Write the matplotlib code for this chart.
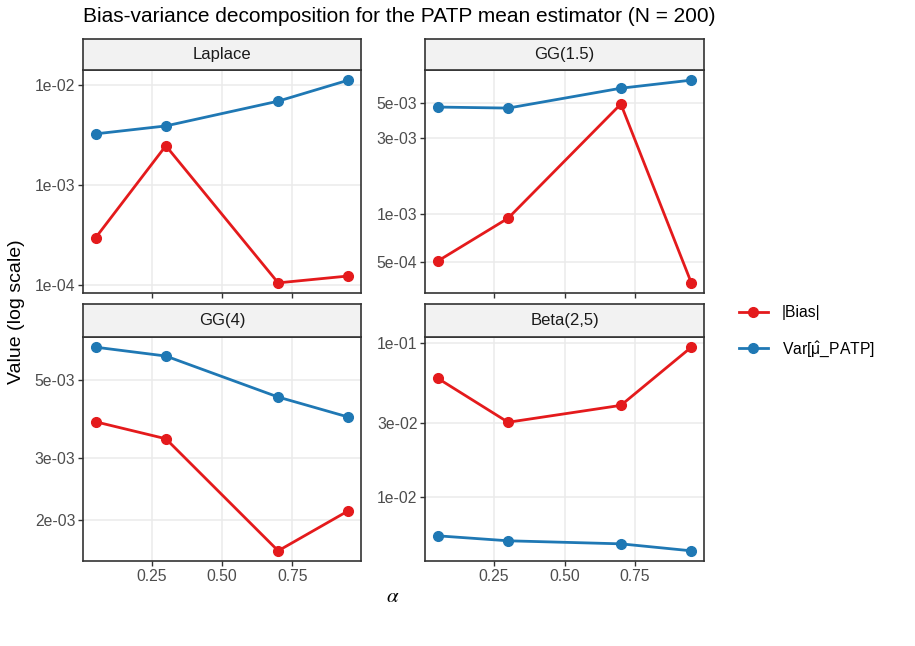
import matplotlib
matplotlib.use("Agg")
import matplotlib.pyplot as plt
from matplotlib.ticker import FixedLocator, FuncFormatter, NullLocator
from matplotlib.lines import Line2D

plt.rcParams['font.family'] = ['Liberation Sans', 'DejaVu Sans']
plt.rcParams['mathtext.fontset'] = 'stix'

alpha = [0.05, 0.30, 0.70, 0.95]
panels = ["Laplace", "GG(1.5)", "GG(4)", "Beta(2,5)"]
bias = {
    "Laplace":   [2.97e-4, 2.47e-3, 1.05e-4, 1.23e-4],
    "GG(1.5)":   [5.07e-4, 9.44e-4, 4.93e-3, 3.70e-4],
    "GG(4)":     [3.80e-3, 3.40e-3, 1.63e-3, 2.12e-3],
    "Beta(2,5)": [5.90e-2, 3.05e-2, 3.93e-2, 9.40e-2],
}
var = {
    "Laplace":   [3.25e-3, 3.90e-3, 6.90e-3, 1.12e-2],
    "GG(1.5)":   [4.72e-3, 4.65e-3, 6.20e-3, 6.97e-3],
    "GG(4)":     [6.20e-3, 5.85e-3, 4.47e-3, 3.92e-3],
    "Beta(2,5)": [5.56e-3, 5.16e-3, 4.93e-3, 4.44e-3],
}
yticks = {
    "Laplace": [1e-4, 1e-3, 1e-2],
    "GG(1.5)": [5e-4, 1e-3, 3e-3, 5e-3],
    "GG(4)": [2e-3, 3e-3, 5e-3],
    "Beta(2,5)": [1e-2, 3e-2, 1e-1],
}
xticks = [0.25, 0.50, 0.75]
xticklabels = ["0.25", "0.50", "0.75"]
series_labels = ["|Bias|", r"Var[$\mathregular{\hat{\mu}}$_PATP]"]
RED = "#E41A1C"
BLUE = "#1F78B4"

W, H = 915, 646
fig = plt.figure(figsize=(W / 100, H / 100), dpi=100)

def fx(px):
    return px / W

def fy(py):
    return 1 - py / H

cols = [(83, 361), (425, 704)]
rows = [((39, 70), (70, 293)), ((304, 337), (337, 561))]

for i, name in enumerate(panels):
    r, c = divmod(i, 2)
    (s0, s1), (p0, p1) = rows[r]
    x0, x1 = cols[c]
    ax = fig.add_axes([fx(x0), fy(p1), fx(x1) - fx(x0), fy(p0) - fy(p1)])
    ax.set_yscale('log')
    ax.plot(alpha, bias[name], color=RED, lw=2, marker='o', ms=7, zorder=3)
    ax.plot(alpha, var[name], color=BLUE, lw=2, marker='o', ms=7, zorder=3)
    ax.set_xlim(0.005, 0.995)
    ax.margins(y=0.05)
    ax.yaxis.set_major_locator(FixedLocator(yticks[name]))
    ax.yaxis.set_minor_locator(NullLocator())
    ax.yaxis.set_major_formatter(FuncFormatter(lambda v, p: f"{v:.0e}"))
    ax.set_xticks(xticks)
    if r == 1:
        ax.set_xticklabels(xticklabels)
    else:
        ax.set_xticklabels([])
    ax.grid(True, color="#EBEBEB", lw=1.1, zorder=0)
    ax.set_axisbelow(True)
    for sp in ax.spines.values():
        sp.set_color("#333333")
        sp.set_linewidth(1.2)
    ax.tick_params(axis='both', colors="#333333", labelcolor="#4D4D4D",
                   labelsize=11.3, length=3.5, width=1, pad=2)
    # strip
    sax = fig.add_axes([fx(x0), fy(s1), fx(x1) - fx(x0), fy(s0) - fy(s1)])
    sax.set_facecolor("#F2F2F2")
    sax.set_xticks([])
    sax.set_yticks([])
    for sp in sax.spines.values():
        sp.set_color("#333333")
        sp.set_linewidth(1.2)
    sax.text(0.5, 0.5, name, ha='center', va='center', fontsize=12,
             color="#1A1A1A", transform=sax.transAxes)

fig.text(fx(83), fy(16), "Bias-variance decomposition for the PATP mean estimator (N = 200)",
         ha='left', va='center', fontsize=15, color="black")
fig.text(fx(17), fy(312), "Value (log scale)", rotation=90, ha='center', va='center',
         fontsize=14, color="black")
fig.text(fx(393), fy(596), r"$\alpha$", ha='center', va='center', fontsize=15, color="black")

handles = [Line2D([0], [0], color=RED, lw=2, marker='o', ms=7),
           Line2D([0], [0], color=BLUE, lw=2, marker='o', ms=7)]
leg = fig.legend(handles, series_labels, loc='upper left',
                 bbox_to_anchor=(fx(733), fy(299)), frameon=False, fontsize=11.3,
                 handlelength=1.8, labelspacing=1.2, handletextpad=0.9, borderaxespad=0)
for t in leg.get_texts():
    t.set_math_fontfamily('dejavusans')

fig.savefig("out.png", dpi=100, facecolor="white")
